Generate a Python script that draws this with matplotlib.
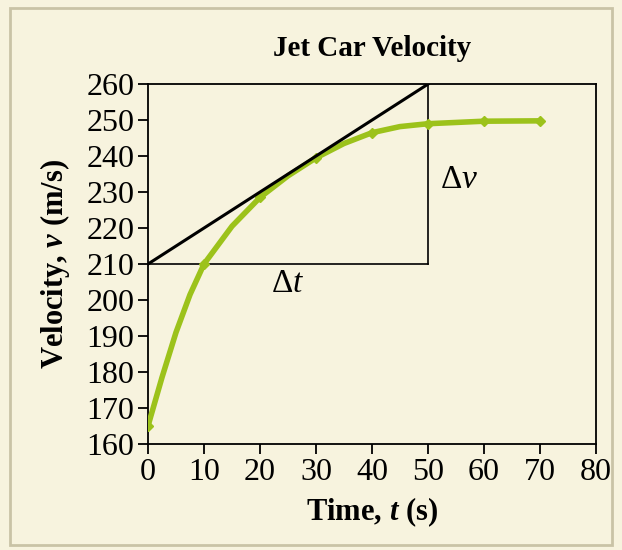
import matplotlib
matplotlib.use("Agg")
import matplotlib.pyplot as plt

plt.rcParams["font.family"] = ["Liberation Serif", "DejaVu Serif"]
plt.rcParams["mathtext.fontset"] = "custom"
plt.rcParams["mathtext.rm"] = "Liberation Serif"
plt.rcParams["mathtext.it"] = "Liberation Serif:italic"
plt.rcParams["mathtext.bf"] = "Liberation Serif:bold"
plt.rcParams["mathtext.bfit"] = "Liberation Serif:bold:italic"

# velocity readings (curve)
time_s = [0, 2.5, 5, 7.5, 10, 15, 20, 25, 30, 35, 40, 45, 50, 60, 70]
velocity = [165, 178.5, 191, 201.5, 210, 220.5, 228.5, 234.5, 239.5, 243.5, 246.5, 248.2, 249, 249.7, 249.8]
marker_idx = [0, 4, 6, 8, 10, 12, 13, 14]

# tangent at t = 30 s
tangent_t = [0, 50]
tangent_v = [210, 260]

xticks = list(range(0, 81, 10))
yticks = list(range(160, 261, 10))

bg = "#f7f3de"
green = "#9cc21b"

fig = plt.figure(figsize=(6.22, 5.5), dpi=100, facecolor=bg)
fig.patches.append(plt.Rectangle((0.016, 0.01), 0.968, 0.975, transform=fig.transFigure,
                                 fill=False, edgecolor="#c9c3a6", linewidth=2))
ax = fig.add_axes([0.238, 0.193, 0.72, 0.654])
ax.set_facecolor(bg)

ax.plot(time_s, velocity, color=green, linewidth=4, marker="D", markersize=5,
        markevery=marker_idx, solid_capstyle="round", solid_joinstyle="round", zorder=3)
ax.plot(tangent_t, tangent_v, color="black", linewidth=2.2, zorder=4)
ax.plot([tangent_t[0], tangent_t[1]], [tangent_v[0], tangent_v[0]], color="black", linewidth=1.2)
ax.plot([tangent_t[1], tangent_t[1]], [tangent_v[0], tangent_v[1]], color="black", linewidth=1.2)

ax.text(25, 204.5, r"$\Delta t$", fontsize=24, ha="center", va="center")
ax.text(55.5, 233.5, r"$\Delta v$", fontsize=24, ha="center", va="center")

ax.set_xlim(0, 80)
ax.set_ylim(160, 260)
ax.set_xticks(xticks)
ax.set_yticks(yticks)
ax.tick_params(direction="out", length=7, width=1.3, labelsize=23, pad=3)
for s in ax.spines.values():
    s.set_linewidth(1.3)

ax.set_title("Jet Car Velocity", fontsize=21, fontweight="bold", pad=20)
ax.set_xlabel(r"Time, $\mathbfit{t}$ (s)", fontsize=22, fontweight="bold", labelpad=6)
ax.set_ylabel(r"Velocity, $\mathbfit{v}$ (m/s)", fontsize=22, fontweight="bold", labelpad=10)

fig.savefig("out.png", facecolor=bg)
